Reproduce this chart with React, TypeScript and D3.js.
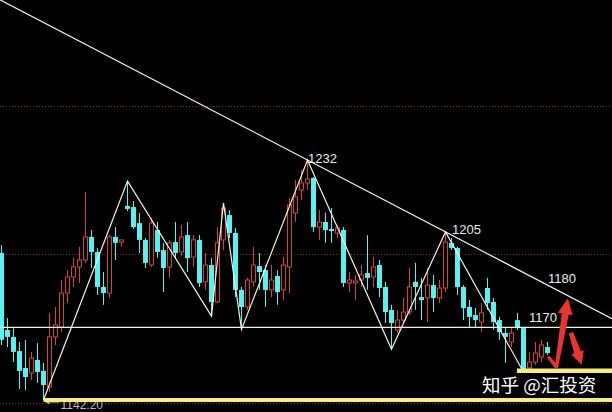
import React from "react";
import * as d3 from "d3";

// candle values (index = bar number from the left)
const opens = [
  1197.2, 1168.4, 1165.8, 1160.5, 1154.2, 1152.3, 1157.2, 1153.1, 1147.1, 1165.8,
  1169.5, 1182.2, 1188.2, 1192.0, 1194.6, 1203.2, 1197.6, 1184.5, 1182.2, 1203.2,
  1201.3, 1214.8, 1214.4, 1208.4, 1202.1, 1192.7, 1205.8, 1198.3, 1192.0, 1201.3,
  1197.6, 1203.9, 1195.7, 1202.1, 1186.4, 1192.7, 1178.9, 1202.1, 1211.4, 1204.7,
  1183.4, 1177.0, 1186.4, 1192.3, 1190.8, 1183.4, 1188.6, 1183.4, 1192.0, 1212.2,
  1220.8, 1223.4, 1225.3, 1206.9, 1208.8, 1206.2, 1204.7, 1205.8, 1186.0, 1186.0,
  1187.1, 1189.7, 1188.2, 1192.7, 1184.5, 1175.9, 1168.4, 1172.1, 1175.1, 1186.4,
  1180.7, 1180.4, 1185.2, 1180.4, 1184.1, 1201.0, 1199.1, 1184.5, 1177.0, 1174.0,
  1171.4, 1184.1, 1178.9, 1172.1, 1167.3, 1163.9, 1172.1, 1169.1, 1154.2, 1156.4,
  1158.3, 1162.0,
];
const highs = [
  1200.2, 1172.9, 1169.1, 1163.9, 1164.7, 1160.2, 1163.5, 1156.1, 1174.8, 1177.0,
  1187.1, 1190.8, 1195.3, 1199.5, 1220.0, 1205.8, 1199.1, 1190.1, 1203.9, 1206.9,
  1202.1, 1224.1, 1216.7, 1212.2, 1202.8, 1210.3, 1208.8, 1201.0, 1202.1, 1208.8,
  1207.7, 1208.8, 1203.9, 1203.9, 1197.2, 1195.3, 1206.9, 1215.9, 1213.3, 1206.6,
  1184.5, 1187.9, 1199.5, 1197.2, 1192.7, 1192.7, 1190.8, 1195.7, 1217.8, 1224.5,
  1228.3, 1232.0, 1225.6, 1213.3, 1212.2, 1214.0, 1207.7, 1206.9, 1190.1, 1189.0,
  1192.7, 1203.9, 1195.7, 1194.6, 1186.4, 1177.8, 1175.9, 1180.4, 1191.6, 1193.5,
  1187.9, 1191.6, 1189.0, 1187.1, 1205.1, 1202.8, 1199.5, 1185.2, 1179.6, 1176.6,
  1178.5, 1187.9, 1180.4, 1173.3, 1169.1, 1169.1, 1174.8, 1169.5, 1160.2, 1163.9,
  1164.7, 1163.9,
];
const lows = [
  1162.8, 1162.0, 1156.4, 1146.3, 1145.9, 1149.7, 1148.6, 1142.2, 1145.2, 1162.8,
  1167.6, 1178.5, 1184.5, 1186.0, 1193.5, 1191.6, 1181.5, 1177.8, 1180.4, 1194.6,
  1199.5, 1212.9, 1206.2, 1197.2, 1191.6, 1192.0, 1195.3, 1182.6, 1187.9, 1195.3,
  1196.1, 1190.1, 1192.0, 1184.5, 1183.4, 1173.6, 1178.5, 1198.3, 1202.8, 1180.7,
  1168.6, 1175.9, 1184.5, 1183.4, 1177.0, 1180.7, 1177.8, 1179.6, 1182.2, 1208.8,
  1217.0, 1220.8, 1205.1, 1202.1, 1201.0, 1201.0, 1202.8, 1184.5, 1182.6, 1179.6,
  1184.5, 1183.4, 1184.5, 1180.7, 1171.0, 1161.2, 1167.3, 1171.4, 1174.0, 1175.9,
  1172.1, 1171.4, 1175.1, 1178.5, 1182.6, 1198.3, 1181.5, 1172.1, 1169.5, 1169.5,
  1167.6, 1175.9, 1168.4, 1164.7, 1156.1, 1162.0, 1168.4, 1152.7, 1153.4, 1155.3,
  1156.4, 1159.0,
];
const closes = [
  1164.7, 1165.8, 1160.2, 1153.1, 1150.8, 1157.9, 1152.7, 1147.8, 1165.8, 1170.3,
  1182.2, 1188.2, 1192.0, 1194.6, 1203.2, 1197.6, 1184.5, 1182.2, 1203.2, 1201.0,
  1202.1, 1213.7, 1206.9, 1202.1, 1193.5, 1208.4, 1197.6, 1191.6, 1201.0, 1197.2,
  1203.2, 1195.3, 1202.1, 1186.0, 1192.7, 1178.9, 1201.0, 1214.0, 1204.7, 1183.4,
  1177.0, 1187.1, 1192.7, 1190.1, 1183.4, 1187.1, 1182.6, 1192.7, 1215.2, 1218.2,
  1223.4, 1224.9, 1206.9, 1208.8, 1205.8, 1205.4, 1206.6, 1186.0, 1187.1, 1186.7,
  1189.0, 1187.9, 1192.0, 1184.1, 1175.1, 1171.0, 1172.1, 1175.1, 1184.5, 1184.5,
  1179.6, 1185.2, 1180.4, 1184.1, 1201.3, 1199.1, 1184.5, 1176.6, 1173.3, 1172.1,
  1174.8, 1178.5, 1171.4, 1167.6, 1165.8, 1167.3, 1169.1, 1153.4, 1156.4, 1159.8,
  1162.8, 1159.8,
];

// zigzag turning points: bar index and whether it is a high or a low
const pivotIdx = [7, 21, 35, 37, 40, 51, 65, 74, 87];
const pivotKind = ["L", "H", "L", "H", "L", "H", "L", "H", "L"];

// levels
const gridLevels = [1252.2, 1196.8, 1141.1];
const resistance = 1169.4;
const supportLow = 1142.2;
const supportNear = 1153.1;
const lowLabel = "1142.20";
const levelLabels = ["1170", "1180"];
const target = 1180.3;

const W = 612;
const H = 412;
const RED = "#d4443f";
const CYAN = "#56f2f2";
const ARROW = "#ea352f";

function arrowPoly(x1, y1, x2, y2, tailW, neckW, headW, headL) {
  const dx = x2 - x1;
  const dy = y2 - y1;
  const len = Math.hypot(dx, dy);
  const ux = dx / len;
  const uy = dy / len;
  const px = -uy;
  const py = ux;
  const bx = x2 - ux * headL;
  const by = y2 - uy * headL;
  const pts = [
    [x1 + px * tailW / 2, y1 + py * tailW / 2],
    [bx + px * neckW / 2, by + py * neckW / 2],
    [bx + px * headW / 2, by + py * headW / 2],
    [x2, y2],
    [bx - px * headW / 2, by - py * headW / 2],
    [bx - px * neckW / 2, by - py * neckW / 2],
    [x1 - px * tailW / 2, y1 - py * tailW / 2],
  ];
  return "M" + pts.map((p) => p[0].toFixed(1) + "," + p[1].toFixed(1)).join("L") + "Z";
}

export default function App() {
  const n = opens.length;
  const x = d3.scaleLinear().domain([0, n - 1]).range([1.5, 547.5]);
  const y = d3.scaleLinear().domain([1142.2, 1232]).range([400, 160]);

  const idxAt = x.invert;

  // falling trend line through the two main highs, stretched to the edges
  const a = 51;
  const b = 74;
  const slope = (highs[b] - highs[a]) / (b - a);
  const i0 = idxAt(0);
  const i1 = idxAt(W);
  const trend = [
    [0, y(highs[a] + slope * (i0 - a))],
    [W, y(highs[a] + slope * (i1 - a))],
  ];

  const zig = d3
    .line()
    .x((d) => x(d))
    .y((d, k) => y(pivotKind[k] === "H" ? highs[d] : lows[d]));

  const bodyW = 5;

  // arrows, defined in bar/price space
  const up = arrowPoly(x(92.5), y(1154.6), x(94.4), y(target), 3.5, 7, 15, 16);
  const down = arrowPoly(x(94.9), y(1167.4), x(96.7), y(1155.4), 4.5, 7, 13, 13);
  const tick = arrowPoly(x(91.1), y(1158.4), x(92.6), y(1154.2), 3, 4, 4, 0.1);

  return (
    <div style={{ position: "fixed", left: 0, top: 0, width: W, height: H, background: "#000" }}>
      <svg width={W} height={H} style={{ display: "block", background: "#000" }}>
        {gridLevels.map((g) => (
          <line
            key={g}
            x1={0}
            x2={W}
            y1={Math.round(y(g)) + 0.5}
            y2={Math.round(y(g)) + 0.5}
            stroke="#8e2222"
            strokeDasharray="1,2"
          />
        ))}

        {d3.range(n).map((i) => {
          const cx = x(i);
          const o = opens[i];
          const c = closes[i];
          const top = y(Math.max(o, c));
          const bot = y(Math.min(o, c));
          const hi = y(highs[i]);
          const lo = y(lows[i]);
          if (c > o) {
            return (
              <g key={i} stroke={RED} strokeWidth={1} fill="none">
                <line x1={cx} x2={cx} y1={hi} y2={top} />
                <line x1={cx} x2={cx} y1={bot} y2={lo} />
                <rect x={cx - 2} y={top} width={bodyW - 1} height={Math.max(bot - top, 1)} fill="#000" />
              </g>
            );
          }
          return (
            <g key={i}>
              <line x1={cx} x2={cx} y1={hi} y2={lo} stroke={CYAN} strokeWidth={1} />
              <rect x={cx - bodyW / 2} y={top} width={bodyW} height={Math.max(bot - top, 1.5)} fill={CYAN} />
            </g>
          );
        })}

        {/* horizontal levels */}
        <line x1={0} x2={W} y1={y(resistance)} y2={y(resistance)} stroke="#f4f2d8" strokeWidth={1.2} />

        <line x1={trend[0][0]} y1={trend[0][1]} x2={trend[1][0]} y2={trend[1][1]} stroke="#f2f2f2" strokeWidth={1.2} />
        <path d={zig(pivotIdx) || ""} fill="none" stroke="#f4f2e0" strokeWidth={1.2} />

        {/* low label */}
        <line x1={x(7) + 2} x2={x(7) + 16} y1={y(supportLow) + 2} y2={y(supportLow) + 2} stroke="#bdbdbd" />
        <path d={`M${x(7) + 2},${y(supportLow) + 2}l4,-2.5v5z`} fill="#bdbdbd" />
        <text x={x(7) + 17} y={y(supportLow) + 8.5} fill="#bcbcbc" fontSize={12} fontFamily="Liberation Sans, Arial, sans-serif">
          {lowLabel}
        </text>
        <line x1={x(7)} x2={W} y1={y(supportLow)} y2={y(supportLow)} stroke="#f3ee7c" strokeWidth={4} />
        <line x1={x(85.9)} x2={W} y1={y(supportNear)} y2={y(supportNear)} stroke="#f3ee7c" strokeWidth={4.5} />

        <g fill="#ececec" fontSize={13} fontFamily="Liberation Sans, Arial, sans-serif">
          <text x={x(51) + 0.5} y={y(highs[51]) + 3}>{highs[51].toFixed(0)}</text>
          <text x={x(74) + 6.5} y={y(highs[74]) + 2}>{highs[74].toFixed(0)}</text>
          <text x={x(88) - 0.5} y={y(resistance) - 5}>{levelLabels[0]}</text>
          <text x={x(91) + 0.5} y={y(target) - 15}>{levelLabels[1]}</text>
        </g>

        <path d={tick} fill={ARROW} />
        <path d={up} fill={ARROW} />
        <path d={down} fill={ARROW} />

        <text
          x={482}
          y={392}
          fill="#ffffff"
          fontSize={18.5}
          fontFamily="Noto Sans CJK SC, sans-serif"
          style={{ whiteSpace: "pre" }}
        >
          知乎 @汇投资
        </text>
      </svg>
    </div>
  );
}
